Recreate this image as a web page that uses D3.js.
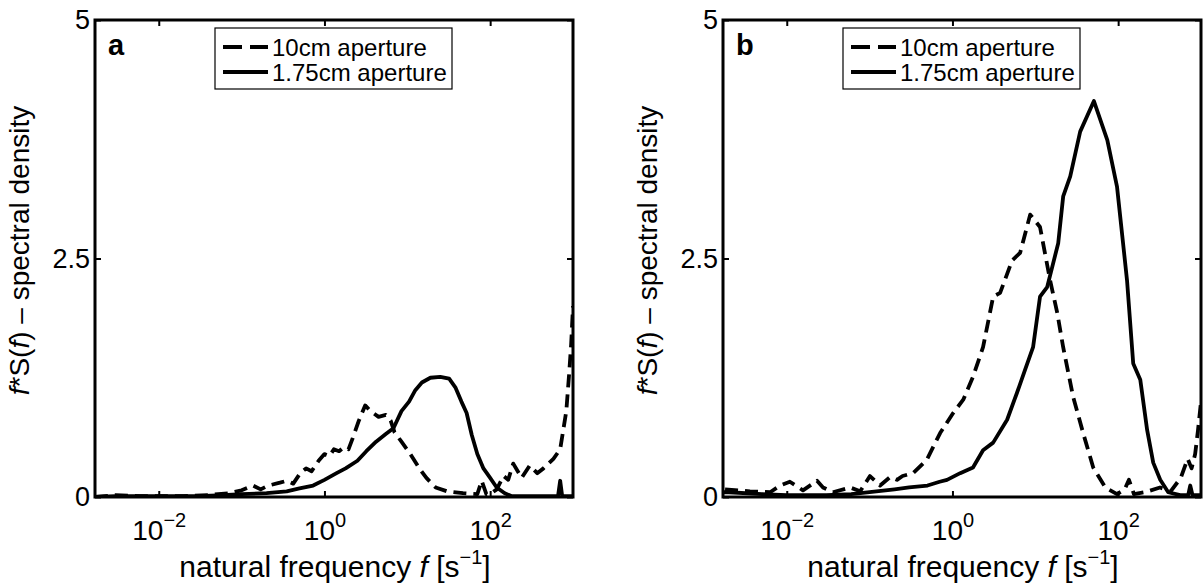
<!DOCTYPE html>
<html>
<head>
<meta charset="utf-8">
<script src="https://cdn.jsdelivr.net/npm/d3@7"></script>
<style>
  body { margin: 0; background: #fff; }
  svg { display: block; font-family: "Liberation Sans", Arial, Helvetica, sans-serif; }
</style>
</head>
<body>
<svg id="chart" width="1203" height="587"></svg>
<script>
/**
 * Data: natural frequency f [1/s] and f*S(f).
 */
// Panel a, 10cm aperture (dashed)
const freqA10 = [0.0017, 0.003, 0.006, 0.01, 0.02, 0.04, 0.07, 0.1, 0.137, 0.17, 0.21, 0.29, 0.35, 0.42, 0.51, 0.6, 0.7,
    0.85, 1.0, 1.15, 1.3, 1.5, 1.7, 1.95, 2.2, 2.6, 3.1, 3.6, 4.5, 5.5, 6.3, 7.0, 8.5, 10.7, 14, 17, 22, 30, 47, 70, 79, 90,
    100, 120, 145, 165, 190, 240, 300, 370, 440, 580, 700, 830, 900, 950, 1000];
const densA10 = [0.0, 0.02, 0.01, 0.01, 0.01, 0.02, 0.04, 0.07, 0.12, 0.08, 0.12, 0.15, 0.17, 0.14, 0.25, 0.3, 0.27,
    0.38, 0.45, 0.43, 0.5, 0.48, 0.52, 0.5, 0.62, 0.8, 0.96, 0.9, 0.84, 0.86, 0.8, 0.68, 0.58, 0.46, 0.3, 0.2, 0.1, 0.06, 0.04,
    0.03, 0.17, 0.03, 0.03, 0.08, 0.22, 0.18, 0.35, 0.2, 0.33, 0.25, 0.3, 0.4, 0.5, 0.9, 1.3, 1.6, 2.0];

// Panel a, 1.75cm aperture (solid)
const freqA175 = [0.0017, 0.003, 0.01, 0.03, 0.06, 0.1, 0.2, 0.35, 0.5, 0.73, 1.0, 1.4, 1.8, 2.5, 3.2, 4.2, 5.5, 6.8,
    8.5, 10.5, 12.5, 15, 19, 25, 32, 38, 45, 52, 60, 70, 83, 100, 120, 150, 180, 250, 400, 660, 700, 740, 1000];
const densA175 = [0.0, 0.01, 0.01, 0.01, 0.02, 0.03, 0.04, 0.06, 0.09, 0.12, 0.18, 0.25, 0.3, 0.38, 0.48, 0.58, 0.66, 0.72,
    0.9, 1.0, 1.12, 1.2, 1.25, 1.26, 1.24, 1.15, 1.0, 0.88, 0.65, 0.45, 0.3, 0.2, 0.1, 0.04, 0.01, 0.01, 0.01, 0.01, 0.17, 0.01, 0.01];

// Panel b, 10cm aperture (dashed)
const freqB10 = [0.0018, 0.0036, 0.0063, 0.0083, 0.0109, 0.0157, 0.0232, 0.0274, 0.036, 0.058, 0.077, 0.101, 0.134, 0.177,
    0.214, 0.25, 0.335, 0.49, 0.71, 1.02, 1.35, 1.77, 2.34, 3.1, 3.76, 5.25, 6.56, 8.67, 11.4, 15.1, 18.4, 21.7, 28.6, 37.8,
    50, 70, 97, 120, 135, 155, 210, 320, 430, 570, 690, 770, 850, 920, 1000];
const densB10 = [0.08, 0.06, 0.05, 0.12, 0.16, 0.07, 0.17, 0.1, 0.05, 0.1, 0.06, 0.22, 0.12, 0.21,
    0.18, 0.22, 0.25, 0.39, 0.67, 0.88, 1.02, 1.26, 1.57, 2.1, 2.14, 2.48, 2.56, 2.96, 2.83, 2.27, 1.93, 1.57, 1.05, 0.67,
    0.31, 0.1, 0.03, 0.08, 0.18, 0.03, 0.05, 0.1, 0.06, 0.2, 0.4, 0.3, 0.45, 0.7, 1.0];

// Panel b, 1.75cm aperture (solid)
const freqB175 = [0.0017, 0.002, 0.005, 0.01, 0.03, 0.06, 0.1, 0.2, 0.3, 0.5, 0.7, 0.86, 1.24, 1.77, 2.34, 3.1, 4.57, 6.0,
    7.5, 9.4, 11.4, 13.9, 18.9, 21.7, 26.4, 34.8, 51, 74, 97, 128, 152, 185, 224, 265, 322, 402, 561, 700, 741, 790, 1000];
const densB175 = [0.05, 0.05, 0.03, 0.02, 0.02, 0.03, 0.05, 0.08, 0.1, 0.12, 0.16, 0.18, 0.25, 0.31, 0.49, 0.57, 0.81, 1.09,
    1.33, 1.57, 2.1, 2.2, 2.66, 3.15, 3.36, 3.83, 4.15, 3.74, 3.25, 2.27, 1.4, 1.23, 0.7, 0.36, 0.18, 0.05, 0.02, 0.02, 0.12, 0.02, 0.02];

// Axes and labels
const xDomain = [0.0017, 1000];
const yDomain = [0, 5];
const xTicks = [1e-2, 1, 1e2];
const xTickExponents = ['\u22122', '0', '2'];
const yTicks = [0, 2.5, 5];
const yTickLabels = ['0', '2.5', '5'];
const legendLabels = ['10cm aperture', '1.75cm aperture'];
const panelLetters = ['a', 'b'];

/**
 * Visual configs.
 */
const panelLefts = [95, 723],
    panelTop = 20,
    panelWidth = 478,
    panelHeight = 477,
    dashPattern = '13,7';

const svg = d3.select('#chart');

const panels = [
    { letter: panelLetters[0], series: [
        { f: freqA10, v: densA10, dashed: true },
        { f: freqA175, v: densA175, dashed: false }] },
    { letter: panelLetters[1], series: [
        { f: freqB10, v: densB10, dashed: true },
        { f: freqB175, v: densB175, dashed: false }] }
];

panels.forEach((p, i) => drawPanel(p, i));

function drawPanel(p, i) {
    const g = svg.append('g').attr('transform', 'translate(' + panelLefts[i] + ',' + panelTop + ')');

    const x = d3.scaleLog().domain(xDomain).range([0, panelWidth]);
    const y = d3.scaleLinear().domain(yDomain).range([panelHeight, 0]);

    // Curves
    const clipId = 'clip-' + i;
    g.append('clipPath').attr('id', clipId)
        .append('rect').attr('width', panelWidth).attr('height', panelHeight);

    const line = d3.line()
        .x(d => x(d[0]))
        .y(d => y(d[1]));

    p.series.forEach(s => {
        g.append('path')
            .datum(s.f.map((f, k) => [f, s.v[k]]))
            .attr('clip-path', 'url(#' + clipId + ')')
            .attr('d', line)
            .attr('fill', 'none')
            .attr('stroke', '#000')
            .attr('stroke-width', 3.8)
            .attr('stroke-linejoin', 'round')
            .attr('stroke-dasharray', s.dashed ? dashPattern : null);
    });

    // Axes: ticks point inwards on all four sides
    const bottom = g.append('g').attr('transform', 'translate(0,' + panelHeight + ')')
        .call(d3.axisBottom(x).tickValues(xTicks).tickSizeInner(-6).tickSizeOuter(0).tickPadding(0));
    bottom.selectAll('.tick text').each(function(d, k) {
        const t = d3.select(this).text(null)
            .attr('y', 43).attr('dy', null)
            .attr('font-size', 28).attr('fill', '#000');
        t.append('tspan').text('10');
        t.append('tspan').text(xTickExponents[k]).attr('font-size', 20).attr('dy', -13);
    });

    g.append('g')
        .call(d3.axisTop(x).tickValues(xTicks).tickSizeInner(-6).tickSizeOuter(0).tickFormat(''));

    const left = g.append('g')
        .call(d3.axisLeft(y).tickValues(yTicks).tickSizeInner(-6).tickSizeOuter(0).tickPadding(6)
            .tickFormat((d, k) => yTickLabels[k]));
    left.selectAll('.tick text')
        .attr('x', -5)
        .attr('font-size', 27).attr('fill', '#000');

    g.append('g').attr('transform', 'translate(' + panelWidth + ',0)')
        .call(d3.axisRight(y).tickValues(yTicks).tickSizeInner(-6).tickSizeOuter(0).tickFormat(''));

    g.selectAll('.domain').remove();
    g.selectAll('.tick line').attr('stroke', '#000').attr('stroke-width', 2);

    g.append('rect')
        .attr('width', panelWidth).attr('height', panelHeight)
        .attr('fill', 'none').attr('stroke', '#000').attr('stroke-width', 3);

    // Axis titles
    const xTitle = g.append('text')
        .attr('x', panelWidth / 2 + 1).attr('y', panelHeight + 80)
        .attr('text-anchor', 'middle').attr('font-size', 30);
    xTitle.append('tspan').text('natural frequency ');
    xTitle.append('tspan').text('f').attr('font-style', 'italic');
    xTitle.append('tspan').text(' [s');
    xTitle.append('tspan').text('\u22121').attr('font-size', 20).attr('dy', -13);
    xTitle.append('tspan').text(']').attr('dy', 13);

    const yTitle = g.append('text')
        .attr('transform', 'translate(-66,' + (panelHeight / 2 - 8) + ') rotate(-90)')
        .attr('text-anchor', 'middle').attr('font-size', 28);
    yTitle.append('tspan').text('f').attr('font-style', 'italic');
    yTitle.append('tspan').text('*S(');
    yTitle.append('tspan').text('f').attr('font-style', 'italic');
    yTitle.append('tspan').text(') \u2013 spectral density');

    // Panel letter
    g.append('text')
        .attr('x', 13).attr('y', 35)
        .attr('font-size', 29).attr('font-weight', 'bold')
        .text(p.letter);

    // Legend
    const legend = g.append('g').attr('transform', 'translate(120,8)');
    legend.append('rect')
        .attr('width', 237).attr('height', 61)
        .attr('fill', '#fff').attr('stroke', '#000').attr('stroke-width', 1.2);

    legendLabels.forEach((label, k) => {
        const row = legend.append('g').attr('transform', 'translate(0,' + (19 + k * 25) + ')');
        row.append('line')
            .attr('x1', 8).attr('x2', 53)
            .attr('stroke', '#000').attr('stroke-width', 3.8)
            .attr('stroke-dasharray', k === 0 ? '19,8' : null);
        row.append('text')
            .attr('x', 57).attr('y', 8.5)
            .attr('font-size', 24)
            .text(label);
    });
}
</script>
</body>
</html>
